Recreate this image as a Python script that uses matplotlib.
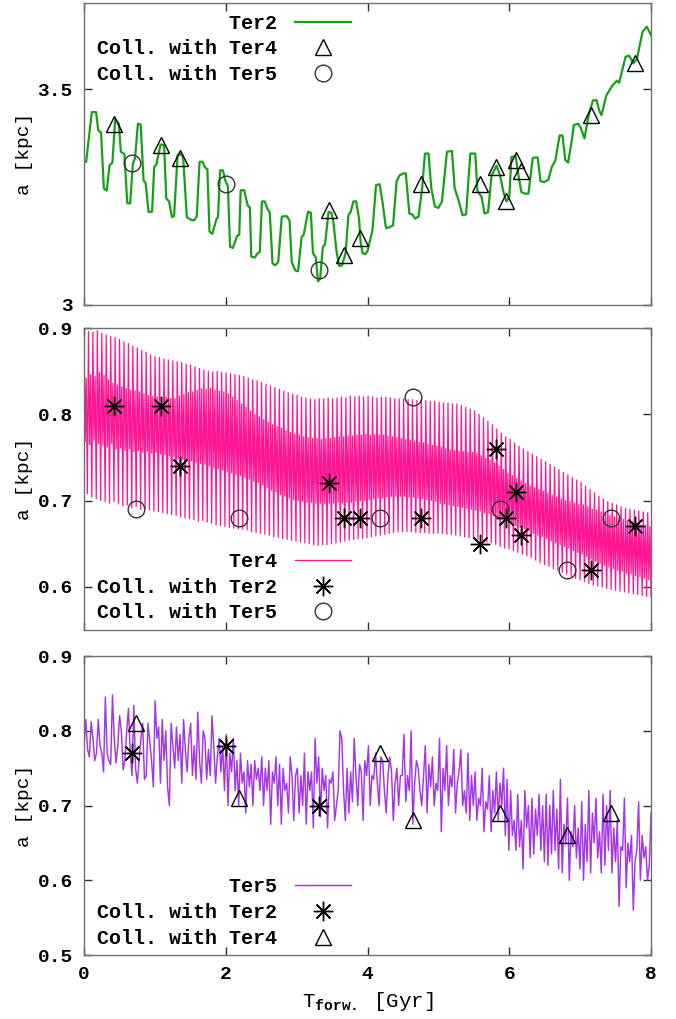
import numpy as np
import matplotlib
matplotlib.use("Agg")
import matplotlib.pyplot as plt
from matplotlib.ticker import FormatStrFormatter
from matplotlib.lines import Line2D

plt.rcParams['font.family'] = ['Liberation Mono', 'DejaVu Sans Mono']
plt.rcParams['font.weight'] = 'bold'
plt.rcParams['mathtext.fontset'] = 'custom'
plt.rcParams['mathtext.rm'] = 'Liberation Mono:bold'
plt.rcParams['mathtext.it'] = 'Liberation Mono:bold'

# --- Ter2 orbit: a [kpc] vs time [Gyr]
ter2_t = [0.03, 0.11, 0.17, 0.20, 0.24, 0.28, 0.32, 0.36, 0.40, 0.44, 0.49, 0.52,
          0.57, 0.61, 0.65, 0.69, 0.72, 0.76, 0.80, 0.84, 0.87, 0.91, 0.96, 0.99,
          1.02, 1.08, 1.13, 1.16, 1.20, 1.24, 1.27, 1.32, 1.37, 1.40, 1.45, 1.50,
          1.55, 1.59, 1.63, 1.67, 1.71, 1.74, 1.77, 1.81, 1.87, 1.89, 1.92, 1.96,
          1.99, 2.03, 2.06, 2.10, 2.16, 2.19, 2.21, 2.26, 2.31, 2.34, 2.36, 2.41,
          2.45, 2.48, 2.51, 2.55, 2.59, 2.62, 2.66, 2.70, 2.74, 2.79, 2.86, 2.90,
          2.93, 2.98, 3.02, 3.07, 3.10, 3.16, 3.20, 3.23, 3.27, 3.30, 3.33, 3.37,
          3.40, 3.45, 3.49, 3.52, 3.56, 3.60, 3.64, 3.69, 3.73, 3.76, 3.80, 3.84,
          3.88, 3.90, 3.93, 3.97, 4.00, 4.07, 4.12, 4.17, 4.21, 4.26, 4.31, 4.36,
          4.41, 4.45, 4.50, 4.54, 4.59, 4.63, 4.67, 4.72, 4.77, 4.81, 4.86, 4.90,
          4.95, 5.00, 5.05, 5.12, 5.19, 5.23, 5.28, 5.34, 5.39, 5.45, 5.52, 5.55,
          5.61, 5.65, 5.70, 5.75, 5.82, 5.87, 5.92, 5.96, 6.00, 6.03, 6.09, 6.13,
          6.17, 6.22, 6.27, 6.33, 6.36, 6.40, 6.44, 6.49, 6.55, 6.60, 6.65, 6.71,
          6.75, 6.79, 6.83, 6.88, 6.91, 6.97, 7.01, 7.06, 7.12, 7.18, 7.23, 7.27,
          7.30, 7.37, 7.46, 7.52, 7.55, 7.64, 7.69, 7.75, 7.80, 7.88, 7.94, 8.00]
ter2_a = [3.332, 3.447, 3.447, 3.405, 3.400, 3.270, 3.265, 3.324, 3.330, 3.430, 3.420, 3.355,
          3.350, 3.236, 3.235, 3.328, 3.340, 3.420, 3.418, 3.289, 3.282, 3.216, 3.216, 3.320,
          3.325, 3.372, 3.370, 3.247, 3.240, 3.204, 3.206, 3.347, 3.350, 3.340, 3.204, 3.198,
          3.196, 3.205, 3.332, 3.332, 3.318, 3.315, 3.170, 3.165, 3.200, 3.203, 3.312, 3.312,
          3.290, 3.275, 3.135, 3.132, 3.160, 3.163, 3.266, 3.266, 3.230, 3.226, 3.112, 3.110,
          3.120, 3.123, 3.240, 3.240, 3.222, 3.215, 3.096, 3.092, 3.100, 3.205, 3.206, 3.196,
          3.100, 3.080, 3.078, 3.158, 3.163, 3.216, 3.214, 3.120, 3.110, 3.055, 3.060, 3.135,
          3.140, 3.216, 3.214, 3.190, 3.127, 3.090, 3.092, 3.120, 3.208, 3.215, 3.240, 3.240,
          3.200, 3.150, 3.120, 3.118, 3.125, 3.174, 3.278, 3.280, 3.240, 3.178, 3.180, 3.185,
          3.286, 3.300, 3.305, 3.305, 3.212, 3.210, 3.200, 3.205, 3.270, 3.351, 3.351, 3.270,
          3.228, 3.225, 3.240, 3.355, 3.357, 3.270, 3.245, 3.208, 3.210, 3.351, 3.351, 3.265,
          3.250, 3.212, 3.215, 3.300, 3.323, 3.300, 3.260, 3.240, 3.250, 3.343, 3.345, 3.300,
          3.262, 3.258, 3.258, 3.340, 3.342, 3.342, 3.287, 3.285, 3.290, 3.320, 3.335, 3.393,
          3.393, 3.336, 3.330, 3.380, 3.417, 3.420, 3.410, 3.386, 3.440, 3.474, 3.475, 3.450,
          3.440, 3.486, 3.510, 3.520, 3.515, 3.575, 3.578, 3.560, 3.570, 3.633, 3.645, 3.625]

# --- Ter4 orbit, evenly sampled over 0..8 Gyr (one row = 0.25 Gyr)
ter4_a = [
    0.893, 0.768, 0.842, 0.708, 0.896, 0.765, 0.846, 0.704, 0.895, 0.770, 0.844, 0.702, 0.897, 0.766, 0.848, 0.700,
    0.894, 0.764, 0.845, 0.699, 0.892, 0.762, 0.840, 0.697, 0.890, 0.766, 0.836, 0.699, 0.889, 0.760, 0.834, 0.696,
    0.887, 0.761, 0.832, 0.694, 0.884, 0.758, 0.830, 0.695, 0.882, 0.760, 0.828, 0.692, 0.879, 0.757, 0.827, 0.693,
    0.877, 0.758, 0.826, 0.690, 0.874, 0.756, 0.824, 0.691, 0.872, 0.757, 0.822, 0.689, 0.869, 0.755, 0.821, 0.688,
    0.867, 0.756, 0.820, 0.687, 0.866, 0.754, 0.819, 0.686, 0.864, 0.753, 0.820, 0.685, 0.863, 0.752, 0.818, 0.684,
    0.862, 0.751, 0.818, 0.683, 0.861, 0.749, 0.821, 0.681, 0.860, 0.748, 0.823, 0.680, 0.858, 0.747, 0.825, 0.679,
    0.857, 0.746, 0.826, 0.678, 0.855, 0.744, 0.828, 0.676, 0.853, 0.743, 0.830, 0.677, 0.851, 0.742, 0.829, 0.675,
    0.850, 0.740, 0.830, 0.674, 0.849, 0.738, 0.828, 0.672, 0.850, 0.737, 0.827, 0.671, 0.849, 0.735, 0.826, 0.670,
    0.848, 0.734, 0.824, 0.669, 0.847, 0.732, 0.820, 0.668, 0.846, 0.730, 0.816, 0.667, 0.845, 0.729, 0.812, 0.667,
    0.844, 0.727, 0.808, 0.666, 0.842, 0.725, 0.804, 0.664, 0.840, 0.722, 0.800, 0.663, 0.839, 0.721, 0.797, 0.662,
    0.837, 0.718, 0.794, 0.661, 0.835, 0.715, 0.791, 0.660, 0.833, 0.712, 0.788, 0.658, 0.831, 0.710, 0.786, 0.657,
    0.829, 0.707, 0.784, 0.656, 0.827, 0.705, 0.781, 0.655, 0.825, 0.703, 0.779, 0.654, 0.823, 0.701, 0.777, 0.653,
    0.822, 0.700, 0.776, 0.652, 0.820, 0.699, 0.774, 0.651, 0.819, 0.698, 0.773, 0.650, 0.818, 0.698, 0.772, 0.649,
    0.817, 0.697, 0.772, 0.648, 0.818, 0.697, 0.771, 0.649, 0.818, 0.696, 0.772, 0.649, 0.819, 0.697, 0.772, 0.650,
    0.818, 0.697, 0.773, 0.651, 0.819, 0.698, 0.774, 0.652, 0.820, 0.697, 0.774, 0.653, 0.819, 0.698, 0.775, 0.654,
    0.821, 0.698, 0.775, 0.655, 0.820, 0.699, 0.776, 0.656, 0.821, 0.700, 0.776, 0.656, 0.820, 0.700, 0.777, 0.657,
    0.821, 0.701, 0.776, 0.658, 0.820, 0.702, 0.777, 0.659, 0.819, 0.703, 0.776, 0.660, 0.820, 0.703, 0.776, 0.661,
    0.820, 0.704, 0.775, 0.662, 0.819, 0.705, 0.774, 0.663, 0.818, 0.705, 0.773, 0.664, 0.818, 0.705, 0.772, 0.664,
    0.818, 0.705, 0.771, 0.664, 0.817, 0.704, 0.770, 0.664, 0.817, 0.704, 0.769, 0.663, 0.816, 0.703, 0.768, 0.663,
    0.817, 0.702, 0.767, 0.663, 0.816, 0.701, 0.765, 0.662, 0.815, 0.700, 0.764, 0.662, 0.815, 0.699, 0.763, 0.662,
    0.814, 0.697, 0.762, 0.662, 0.813, 0.696, 0.760, 0.661, 0.813, 0.695, 0.759, 0.661, 0.812, 0.694, 0.758, 0.660,
    0.812, 0.693, 0.757, 0.659, 0.810, 0.692, 0.757, 0.658, 0.808, 0.691, 0.756, 0.657, 0.806, 0.690, 0.756, 0.656,
    0.804, 0.689, 0.755, 0.655, 0.800, 0.688, 0.752, 0.653, 0.796, 0.686, 0.749, 0.652, 0.792, 0.685, 0.747, 0.651,
    0.788, 0.683, 0.744, 0.649, 0.783, 0.681, 0.740, 0.647, 0.778, 0.679, 0.736, 0.645, 0.774, 0.677, 0.732, 0.644,
    0.771, 0.674, 0.729, 0.642, 0.767, 0.671, 0.726, 0.640, 0.763, 0.669, 0.723, 0.638, 0.760, 0.667, 0.720, 0.636,
    0.757, 0.665, 0.717, 0.634, 0.754, 0.662, 0.715, 0.631, 0.751, 0.660, 0.713, 0.628, 0.748, 0.658, 0.711, 0.626,
    0.745, 0.656, 0.709, 0.624, 0.742, 0.653, 0.706, 0.621, 0.739, 0.651, 0.704, 0.619, 0.736, 0.649, 0.702, 0.617,
    0.733, 0.647, 0.700, 0.615, 0.730, 0.645, 0.699, 0.612, 0.727, 0.642, 0.697, 0.610, 0.724, 0.640, 0.696, 0.608,
    0.721, 0.638, 0.695, 0.606, 0.717, 0.635, 0.693, 0.604, 0.713, 0.632, 0.690, 0.602, 0.709, 0.630, 0.689, 0.601,
    0.705, 0.627, 0.687, 0.600, 0.702, 0.625, 0.685, 0.598, 0.699, 0.623, 0.683, 0.597, 0.697, 0.621, 0.681, 0.596,
    0.695, 0.619, 0.680, 0.595, 0.693, 0.618, 0.678, 0.594, 0.691, 0.616, 0.677, 0.593, 0.690, 0.615, 0.676, 0.592,
    0.689, 0.613, 0.674, 0.591, 0.688, 0.612, 0.672, 0.590, 0.687, 0.610, 0.671, 0.589, 0.686, 0.608, 0.670, 0.588,
]

# --- Ter5 orbit, evenly sampled over 0..8 Gyr (one row = 0.5 Gyr)
ter5_a = [
    0.780,
    0.815, 0.775, 0.765, 0.812, 0.790, 0.760, 0.770, 0.815, 0.780, 0.770, 0.745, 0.845, 0.770, 0.760, 0.755, 0.848, 0.790, 0.757, 0.780, 0.820,
    0.800, 0.748, 0.760, 0.800, 0.830, 0.770, 0.740, 0.834, 0.750, 0.730, 0.760, 0.790, 0.810, 0.735, 0.740, 0.810, 0.785, 0.760, 0.725, 0.840,
    0.790, 0.805, 0.730, 0.815, 0.760, 0.800, 0.725, 0.700, 0.810, 0.780, 0.750, 0.805, 0.760, 0.795, 0.730, 0.815, 0.775, 0.745, 0.790, 0.810,
    0.740, 0.780, 0.735, 0.825, 0.760, 0.730, 0.800, 0.790, 0.735, 0.775, 0.740, 0.820, 0.780, 0.730, 0.765, 0.790, 0.745, 0.780, 0.720, 0.795,
    0.700, 0.770, 0.745, 0.790, 0.720, 0.760, 0.700, 0.770, 0.730, 0.745, 0.690, 0.760, 0.725, 0.755, 0.700, 0.760, 0.735, 0.750, 0.720, 0.765,
    0.700, 0.750, 0.720, 0.760, 0.675, 0.745, 0.730, 0.765, 0.700, 0.755, 0.675, 0.750, 0.720, 0.730, 0.690, 0.765, 0.740, 0.680, 0.740, 0.750,
    0.690, 0.740, 0.700, 0.770, 0.675, 0.745, 0.720, 0.745, 0.670, 0.790, 0.730, 0.765, 0.685, 0.750, 0.720, 0.740, 0.670, 0.735, 0.730, 0.745,
    0.680, 0.700, 0.720, 0.800, 0.790, 0.720, 0.680, 0.750, 0.690, 0.745, 0.705, 0.790, 0.740, 0.700, 0.755, 0.745, 0.680, 0.760, 0.740, 0.780,
    0.700, 0.740, 0.735, 0.770, 0.730, 0.700, 0.765, 0.760, 0.720, 0.690, 0.740, 0.765, 0.745, 0.680, 0.730, 0.750, 0.700, 0.740, 0.740, 0.795,
    0.705, 0.740, 0.720, 0.800, 0.675, 0.730, 0.760, 0.750, 0.720, 0.700, 0.740, 0.780, 0.690, 0.755, 0.725, 0.765, 0.700, 0.730, 0.720, 0.790,
    0.665, 0.750, 0.720, 0.780, 0.700, 0.740, 0.725, 0.775, 0.690, 0.730, 0.745, 0.775, 0.700, 0.720, 0.690, 0.770, 0.680, 0.740, 0.700, 0.745,
    0.680, 0.710, 0.700, 0.750, 0.665, 0.705, 0.695, 0.740, 0.665, 0.720, 0.690, 0.745, 0.680, 0.730, 0.700, 0.750, 0.660, 0.735, 0.640, 0.720,
    0.660, 0.680, 0.640, 0.715, 0.645, 0.680, 0.615, 0.720, 0.670, 0.700, 0.630, 0.710, 0.635, 0.695, 0.660, 0.715, 0.640, 0.700, 0.625, 0.715,
    0.620, 0.700, 0.635, 0.720, 0.640, 0.695, 0.615, 0.735, 0.610, 0.675, 0.650, 0.710, 0.600, 0.665, 0.645, 0.700, 0.630, 0.670, 0.615, 0.705,
    0.600, 0.675, 0.625, 0.720, 0.610, 0.690, 0.650, 0.710, 0.630, 0.665, 0.610, 0.715, 0.620, 0.700, 0.640, 0.720, 0.610, 0.670, 0.625, 0.680,
    0.565, 0.645, 0.640, 0.710, 0.590, 0.650, 0.625, 0.660, 0.560, 0.625, 0.640, 0.705, 0.600, 0.660, 0.630, 0.645, 0.600, 0.620, 0.690,
]

# --- collisions: times [Gyr] and a [kpc] of each cluster at that moment
t_coll_24 = [0.42, 1.09, 1.35, 3.46, 3.67, 3.90, 4.76, 5.58, 5.81, 5.96, 6.10, 6.16, 7.15, 7.78]
ter2_at_24 = [3.42, 3.37, 3.34, 3.22, 3.115, 3.155, 3.28, 3.28, 3.32, 3.24, 3.335, 3.31, 3.44, 3.56]
ter4_at_24 = [0.81, 0.81, 0.74, 0.72, 0.68, 0.68, 0.68, 0.65, 0.76, 0.68, 0.71, 0.66, 0.62, 0.67]
t_coll_25 = [0.68, 2.00, 3.31]
ter2_at_25 = [3.33, 3.28, 3.08]
ter5_at_25 = [0.77, 0.78, 0.70]
t_coll_45 = [0.74, 2.18, 4.18, 4.64, 5.87, 6.82, 7.44]
ter4_at_45 = [0.69, 0.68, 0.68, 0.82, 0.69, 0.62, 0.68]
ter5_at_45 = [0.81, 0.71, 0.77, 0.68, 0.69, 0.66, 0.69]

ter4_t = np.linspace(0, 8, len(ter4_a))
ter5_t = np.linspace(0, 8, len(ter5_a))

GREEN, PINK, VIOLET = '#17a017', '#ff1493', '#a436e6'
FRAME = '#707070'
tri = dict(marker='^', ms=12, mfc='none', mec='black', mew=1.0, ls='none')
circ = dict(marker='o', ms=12, mfc='none', mec='#333333', mew=1.0, ls='none')
star = dict(marker=(8, 2, 0), ms=14, mec='black', mew=1.0, ls='none')


def style_axes(ax, ylim, yticks, xlabels):
    ax.set_xlim(0, 8)
    ax.set_ylim(*ylim)
    ax.set_xticks([0, 2, 4, 6, 8])
    ax.set_yticks(yticks)
    ax.yaxis.set_major_formatter(FormatStrFormatter('%g'))
    ax.tick_params(direction='in', length=6, width=1, color='#303030',
                   top=True, right=True, labelsize=14, pad=8)
    if not xlabels:
        ax.tick_params(labelbottom=False)
    for s in ax.spines.values():
        s.set_color(FRAME)
        s.set_linewidth(1.0)
    ax.set_ylabel('a [kpc]', fontsize=14, labelpad=3)


def add_legend(ax, handles, labels, loc, anchor):
    # monospace font: pad short labels so they line up on the right
    width = max(len(l) for l in labels)
    labels = [l.rjust(width) for l in labels]
    ax.legend(handles, labels, loc=loc, bbox_to_anchor=anchor, frameon=False,
              markerfirst=False, fontsize=14.4, handlelength=2.8,
              handletextpad=0.9, labelspacing=0.33, borderpad=0,
              borderaxespad=0)


fig = plt.figure(figsize=(6.76, 10.19), dpi=100)
ax1 = fig.add_axes([0.1243, 0.7007, 0.8388, 0.2964])
ax2 = fig.add_axes([0.1243, 0.3817, 0.8388, 0.2964])
ax3 = fig.add_axes([0.1243, 0.0628, 0.8388, 0.2934])

# Ter2
ax1.plot(ter2_t, ter2_a, color=GREEN, lw=1.6, zorder=2)
ax1.plot(t_coll_24, ter2_at_24, zorder=3, **tri)
ax1.plot(t_coll_25, ter2_at_25, zorder=3, **circ)
style_axes(ax1, (3.0, 3.7), [3.0, 3.5], False)
add_legend(ax1,
           [Line2D([], [], color=GREEN, lw=1.6), Line2D([], [], **tri),
            Line2D([], [], **circ)],
           ['Ter2', 'Coll. with Ter4', 'Coll. with Ter5'],
           'upper left', (0.022, 0.965))

# Ter4
ax2.plot(ter4_t, ter4_a, color=PINK, lw=0.9, zorder=2)
ax2.plot(t_coll_24, ter4_at_24, zorder=3, **star)
ax2.plot(t_coll_45, ter4_at_45, zorder=3, **circ)
style_axes(ax2, (0.55, 0.9), [0.6, 0.7, 0.8, 0.9], False)
add_legend(ax2,
           [Line2D([], [], color=PINK, lw=0.9), Line2D([], [], **star),
            Line2D([], [], **circ)],
           ['Ter4', 'Coll. with Ter2', 'Coll. with Ter5'],
           'lower left', (0.022, 0.025))

# Ter5
ax3.plot(ter5_t, ter5_a, color=VIOLET, lw=1.05, zorder=2)
ax3.plot(t_coll_25, ter5_at_25, zorder=3, **star)
ax3.plot(t_coll_45, ter5_at_45, zorder=3, **tri)
style_axes(ax3, (0.5, 0.9), [0.5, 0.6, 0.7, 0.8, 0.9], True)
add_legend(ax3,
           [Line2D([], [], color=VIOLET, lw=1.05), Line2D([], [], **star),
            Line2D([], [], **tri)],
           ['Ter5', 'Coll. with Ter2', 'Coll. with Ter4'],
           'lower left', (0.022, 0.025))
ax3.set_xlabel(r'T$_{\mathrm{forw.}}$ [Gyr]', fontsize=15, labelpad=5)

fig.savefig('out.png', dpi=100)
